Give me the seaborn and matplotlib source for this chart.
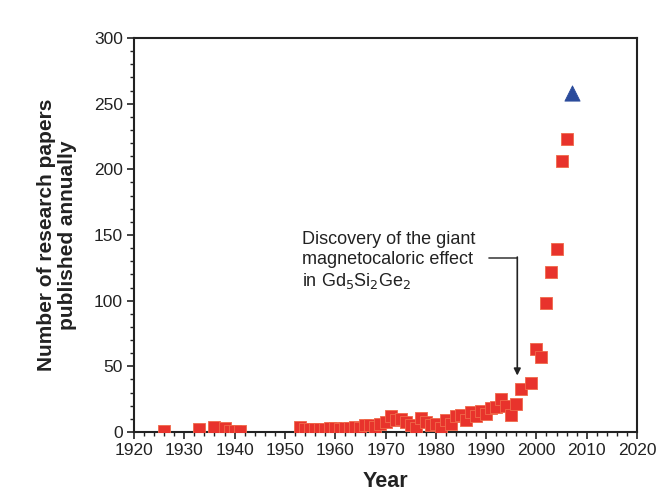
import matplotlib
matplotlib.use("Agg")
import matplotlib.pyplot as plt
import seaborn as sns
import pandas as pd
from matplotlib.ticker import MultipleLocator

years = [1926, 1933, 1936, 1938, 1939, 1940, 1941,
         1953, 1954, 1955, 1956, 1957, 1958, 1959, 1960, 1961, 1962, 1963,
         1964, 1965, 1966, 1967, 1968, 1969, 1970, 1971, 1972, 1973, 1974,
         1975, 1976, 1977, 1978, 1979, 1980, 1981, 1982, 1983, 1984, 1985,
         1986, 1987, 1988, 1989, 1990, 1991, 1992, 1993, 1994, 1995, 1996,
         1997, 1999, 2000, 2001, 2002, 2003, 2004, 2005, 2006]
papers = [1, 2, 4, 3, 1, 1, 1,
          4, 2, 2, 2, 2, 2, 3, 3, 2, 3, 3,
          4, 3, 5, 5, 4, 6, 8, 12, 9, 10, 8,
          5, 3, 11, 8, 5, 6, 3, 9, 6, 12, 13,
          9, 15, 12, 16, 14, 18, 19, 25, 20, 13, 21,
          33, 37, 63, 57, 98, 122, 139, 206, 223]
proj_year = [2007]
proj_papers = [258]

sns.set_theme(style="ticks")
plt.rcParams['font.family'] = ['Liberation Sans', 'DejaVu Sans']

df = pd.DataFrame({"Year": years, "Papers": papers})
df2 = pd.DataFrame({"Year": proj_year, "Papers": proj_papers})

fig = plt.figure(figsize=(6.68, 4.93), dpi=100)
ax = fig.add_axes([0.2006, 0.1237, 0.7530, 0.7992])

sns.scatterplot(data=df, x="Year", y="Papers", marker="s", s=72,
                color="#e8332c", edgecolor="#f06a4a", linewidth=0.6, ax=ax, zorder=3)
sns.scatterplot(data=df2, x="Year", y="Papers", marker="^", s=120,
                color="#2b4b9b", edgecolor="#2b4b9b", linewidth=0.6, ax=ax, zorder=3)

ax.set_xlim(1920, 2020)
ax.set_ylim(0, 300)
ax.xaxis.set_major_locator(MultipleLocator(10))
ax.xaxis.set_minor_locator(MultipleLocator(2))
ax.yaxis.set_major_locator(MultipleLocator(50))
ax.yaxis.set_minor_locator(MultipleLocator(10))
ax.tick_params(axis="both", which="major", direction="out", length=5, width=1.2,
               labelsize=12.5, colors="#222222", pad=3)
ax.tick_params(axis="both", which="minor", direction="out", length=3, width=1.0,
               colors="#222222")
for sp in ax.spines.values():
    sp.set_visible(True)
    sp.set_linewidth(1.5)
    sp.set_color("#222222")

ax.set_xlabel("Year", fontsize=15.5, fontweight="bold", color="#222222", labelpad=9)
ax.set_ylabel("Number of research papers\npublished annually", fontsize=15,
              fontweight="bold", color="#222222", labelpad=12, linespacing=1.15)

ax.text(1953.3, 153, "Discovery of the giant\nmagnetocaloric effect\nin Gd$_5$Si$_2$Ge$_2$",
        fontsize=13, color="#222222", ha="left", va="top", linespacing=1.2)
ax.plot([1990.6, 1996.2], [132.5, 132.5], color="#444444", lw=1.2)
ax.annotate("", xy=(1996.2, 43), xytext=(1996.2, 133.2),
            arrowprops=dict(arrowstyle="-|>", color="#222222", lw=1.2,
                            mutation_scale=10, shrinkA=0, shrinkB=0))

fig.savefig("out.png", dpi=100)
